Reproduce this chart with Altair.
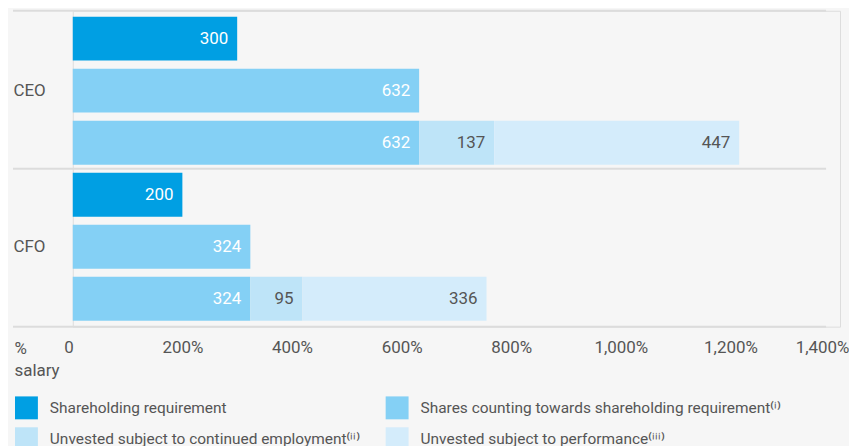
import altair as alt
import pandas as pd

# ---- data ----
roles = ["CEO", "CFO"]
categories = [
    "Shareholding requirement",
    "Shares counting towards shareholding requirement⁽ⁱ⁾",
    "Unvested subject to continued employment⁽ⁱⁱ⁾",
    "Unvested subject to performance⁽ⁱⁱⁱ⁾",
]
colors = ["#009fe3", "#84d0f5", "#bee4f8", "#d4ecfb"]
requirement = [300, 200]
shares_counting = [632, 324]
unvested_employment = [137, 95]
unvested_performance = [447, 336]
tick_values = [0, 200, 400, 600, 800, 1000, 1200, 1400]

records = []
for i, role in enumerate(roles):
    bars = [
        [(categories[0], requirement[i])],
        [(categories[1], shares_counting[i])],
        [(categories[1], shares_counting[i]),
         (categories[2], unvested_employment[i]),
         (categories[3], unvested_performance[i])],
    ]
    for j, segs in enumerate(bars):
        start = 0
        for cat, v in segs:
            records.append(dict(row=f"{role} {j + 1}", cat=cat, value=v,
                                start=start, end=start + v,
                                dark=cat in categories[:2]))
            start += v
df = pd.DataFrame(records)
row_order = [f"{r} {j}" for r in roles for j in (1, 2, 3)]

FONT = "Roboto"
GREY = "#555555"
LINE = "#dcdcdc"

yscale = alt.Scale(domain=row_order, paddingInner=0.157, paddingOuter=0.115)
yaxis = alt.Axis(
    title=None, domain=False, ticks=False, grid=False,
    labelExpr="substring(datum.value, 4) == '2' ? substring(datum.value, 0, 3) : ''",
    labelAlign="left", labelPadding=60, labelFontSize=17, labelColor=GREY,
    labelFont=FONT,
)
xscale = alt.Scale(domain=[0, 1400], nice=False)
xaxis = alt.Axis(
    values=tick_values,
    labelExpr="datum.value == 0 ? '0' : format(datum.value, ',') + '%'",
    title=["%", "salary"], titleX=-59, titleY=14, titleAlign="left",
    titleBaseline="top", titleFontWeight="normal", titleFontSize=17,
    titleColor=GREY, titleLineHeight=22, titleFont=FONT,
    labelFontSize=17, labelColor=GREY, labelPadding=13, labelFont=FONT,
    ticks=False, domain=False, grid=False,
    labelFlush=True, labelFlushOffset=9,
)

bars = alt.Chart(df).mark_bar().encode(
    x=alt.X("start:Q", scale=xscale, axis=xaxis),
    x2="end:Q",
    y=alt.Y("row:N", scale=yscale, axis=yaxis, sort=row_order),
    color=alt.Color(
        "cat:N",
        scale=alt.Scale(domain=categories, range=colors),
        legend=alt.Legend(
            title=None, orient="none", legendX=-58, legendY=387, columns=2,
            direction="horizontal",
            symbolType="square", symbolSize=529, symbolStrokeWidth=0,
            symbolOpacity=1, labelFontSize=15.5, labelColor=GREY,
            labelFont=FONT, labelOffset=12, labelLimit=500,
            columnPadding=25, rowPadding=8,
        ),
    ),
)

labels = alt.Chart(df).mark_text(
    align="right", baseline="middle", dx=-9, fontSize=17, font=FONT
).encode(
    x=alt.X("end:Q", scale=xscale),
    y=alt.Y("row:N", scale=yscale, sort=row_order),
    text="value:Q",
    color=alt.condition("datum.dark", alt.value("white"), alt.value(GREY)),
)

sep_df = pd.DataFrame({"row": [row_order[3]]})
mid_rule = alt.Chart(sep_df).mark_rule(
    color=LINE, strokeWidth=2, yOffset=-4
).encode(
    y=alt.Y("row:N", scale=yscale, bandPosition=0, sort=row_order),
    x=alt.value(-60), x2=alt.value(756),
)

one = pd.DataFrame({"k": [0]})
top_rule = alt.Chart(one).mark_rule(color=LINE, strokeWidth=2).encode(
    y=alt.value(0), x=alt.value(-60), x2=alt.value(756))
bottom_rule = alt.Chart(one).mark_rule(color=LINE, strokeWidth=2).encode(
    y=alt.value(317), x=alt.value(-60), x2=alt.value(756))

chart = alt.layer(top_rule, mid_rule, bottom_rule, bars, labels).properties(
    width=770, height=317,
    background="#f6f6f6",
    padding={"left": 4, "top": 1, "right": 0, "bottom": 0},
).configure_view(stroke=None).configure(font=FONT)

chart.save("out.html", embed_options={"renderer": "svg", "actions": False})
